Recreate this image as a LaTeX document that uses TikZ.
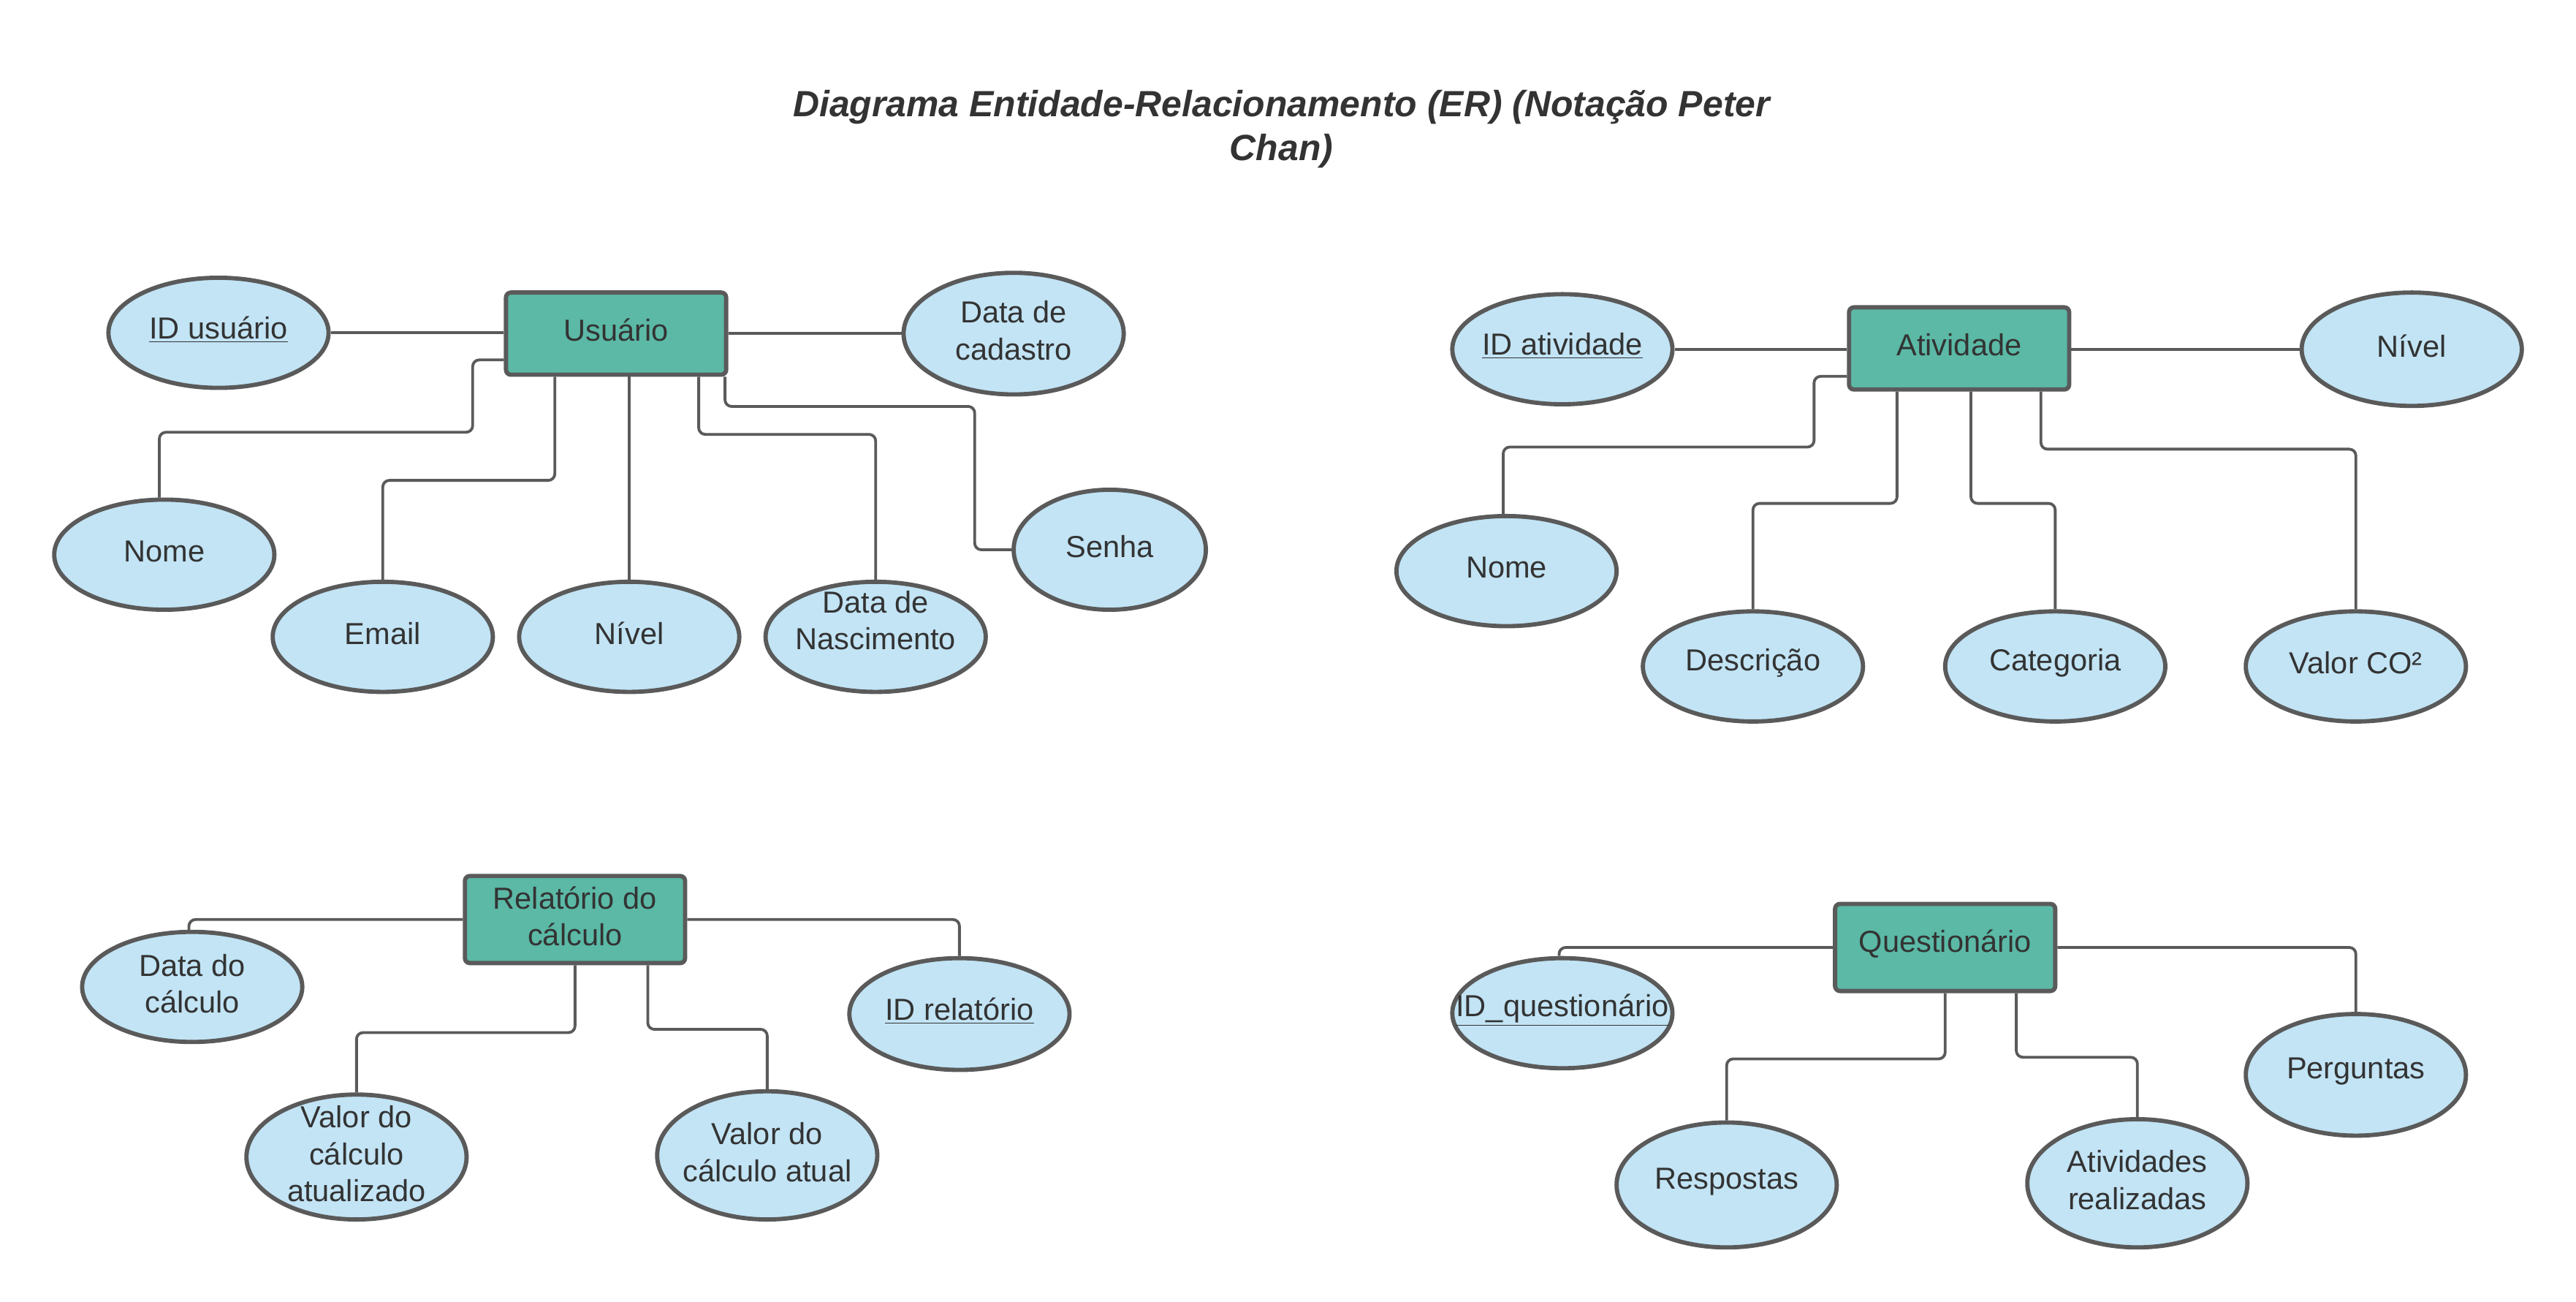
\documentclass[tikz,border=0pt]{standalone}
\usepackage{fontspec}
\setmainfont{Liberation Sans}
\usetikzlibrary{shapes.geometric}
\definecolor{entc}{HTML}{5BB9A6}
\definecolor{attrc}{HTML}{C2E4F5}
\definecolor{bordc}{HTML}{5A5A5A}
\definecolor{txtc}{HTML}{333333}
\tikzset{
  lbl/.style={text=txtc, align=center, inner sep=0pt, font=\fontsize{18.5}{22.5}\selectfont, yshift=2pt},
  entity/.style={draw=bordc, line width=2.6pt, fill=entc, rounded corners=3pt,
    minimum width=134pt, inner sep=0pt},
  attr/.style={ellipse, draw=bordc, line width=2.6pt, fill=attrc,
    minimum width=134pt, minimum height=67pt, inner sep=0pt},
  conn/.style={draw=bordc, line width=1.7pt, rounded corners=4pt},
}
\newcommand{\ul}[1]{\underline{#1}}
\begin{document}
\begin{tikzpicture}[x=1pt,y=-1pt]
\useasboundingbox[fill=white] (0,0) rectangle (1568,792.2);

\node[text=txtc, align=center, font=\fontsize{22.2}{26.5}\selectfont\bfseries\itshape] (title) at (780,78.5)
  {Diagrama Entidade-Relacionamento (ER) (Notação Peter\\Chan)};

% ---------- Usuario ----------
\node[entity, minimum height=50pt, label={[lbl]center:Usuário}] (usu) at (375,203) {};
\node[attr, label={[lbl]center:\ul{ID usuário}}] (idusu) at (133,202.5) {};
\node[attr, minimum height=74pt, label={[lbl]center:Data de\\cadastro}] (dcad) at (617,203) {};
\node[attr, label={[lbl]center:Nome}] (nome1) at (100,337.5) {};
\node[attr, label={[lbl]center:Email}] (email) at (233,387.5) {};
\node[attr, label={[lbl]center:Nível}] (niv1) at (383,387.5) {};
\node[attr, label={[lbl, yshift=8pt]center:Data de\\Nascimento}] (dnasc) at (533,387.5) {};
\node[attr, minimum width=117pt, minimum height=73pt, label={[lbl]center:Senha}] (senha) at (675.5,334.5) {};

\draw[conn] (idusu.east) -- (usu.west |- idusu.east);
\draw[conn] (usu.east |- dcad.west) -- (dcad.west);
\draw[conn] ([yshift=-16pt]usu.west) -- ++(-19,0) -- ++(0,44) -| ([xshift=-3pt]nome1.north);
\draw[conn] ([xshift=31pt]usu.south west) -- ++(0,63) -| (email.north);
\draw[conn] (niv1.north |- usu.south) -- (niv1.north);
\draw[conn] ([xshift=-18pt]usu.south east) -- ++(0,35) -| (dnasc.north);
\draw[conn] ([xshift=-2pt]usu.south east) -- ++(0,18) -- ++(152,0) |- (senha.west);

% ---------- Atividade ----------
\node[entity, minimum height=50pt, label={[lbl]center:Atividade}] (ativ) at (1192.5,212) {};
\node[attr, label={[lbl]center:\ul{ID atividade}}] (idativ) at (951,212.5) {};
\node[attr, minimum height=69pt, label={[lbl]center:Nível}] (niv2) at (1468,212.5) {};
\node[attr, label={[lbl]center:Nome}] (nome2) at (917,347.5) {};
\node[attr, label={[lbl]center:Descrição}] (desc) at (1067,405.5) {};
\node[attr, label={[lbl]center:Categoria}] (cat) at (1251,405.5) {};
\node[attr, label={[lbl]center:Valor CO²}] (vco) at (1434,405.5) {};

\draw[conn] (idativ.east) -- (ativ.west |- idativ.east);
\draw[conn] (ativ.east |- niv2.west) -- (niv2.west);
\draw[conn] ([yshift=-17pt]ativ.west) -- ++(-20,0) -- ++(0,43) -| ([xshift=-2pt]nome2.north);
\draw[conn] ([xshift=30.5pt]ativ.south west) -- ++(0,68) -| (desc.north);
\draw[conn] ([xshift=75.5pt]ativ.south west) -- ++(0,68) -| (cat.north);
\draw[conn] ([xshift=-18.5pt]ativ.south east) -- ++(0,35) -| (vco.north);

% ---------- Relatorio ----------
\node[entity, minimum height=53pt, label={[lbl]center:Relatório do\\cálculo}] (rel) at (350,559.5) {};
\node[attr, label={[lbl]center:Data do\\cálculo}] (dcalc) at (117,600.5) {};
\node[attr, minimum height=68pt, label={[lbl]center:\ul{ID relatório}}] (idrel) at (584,617) {};
\node[attr, minimum height=76pt, label={[lbl]center:Valor do\\cálculo\\atualizado}] (vatu) at (217,704) {};
\node[attr, minimum height=78pt, label={[lbl]center:Valor do\\cálculo atual}] (vat) at (467,703) {};

\draw[conn] (rel.west) -| ([xshift=-2pt]dcalc.north);
\draw[conn] (rel.east) -| (idrel.north);
\draw[conn] (rel.south) -- ++(0,41) -| (vatu.north);
\draw[conn] ([xshift=-24pt]rel.south east) -- ++(0,39) -| (vat.north);

% ---------- Questionario ----------
\node[entity, minimum height=53pt, label={[lbl]center:Questionário}] (quest) at (1184,576.5) {};
\node[attr, label={[lbl]center:\ul{ID\_questionário}}] (idq) at (951,616.5) {};
\node[attr, minimum height=74pt, label={[lbl]center:Perguntas}] (perg) at (1434,654) {};
\node[attr, minimum height=76pt, label={[lbl]center:Respostas}] (resp) at (1051,721) {};
\node[attr, minimum height=78pt, label={[lbl]center:Atividades\\realizadas}] (ativr) at (1301,720) {};

\draw[conn] (quest.west) -| ([xshift=-2pt]idq.north);
\draw[conn] (quest.east) -| (perg.north);
\draw[conn] (quest.south) -- ++(0,40) -| (resp.north);
\draw[conn] ([xshift=-25pt]quest.south east) -- ++(0,39) -| (ativr.north);
\end{tikzpicture}
\end{document}
